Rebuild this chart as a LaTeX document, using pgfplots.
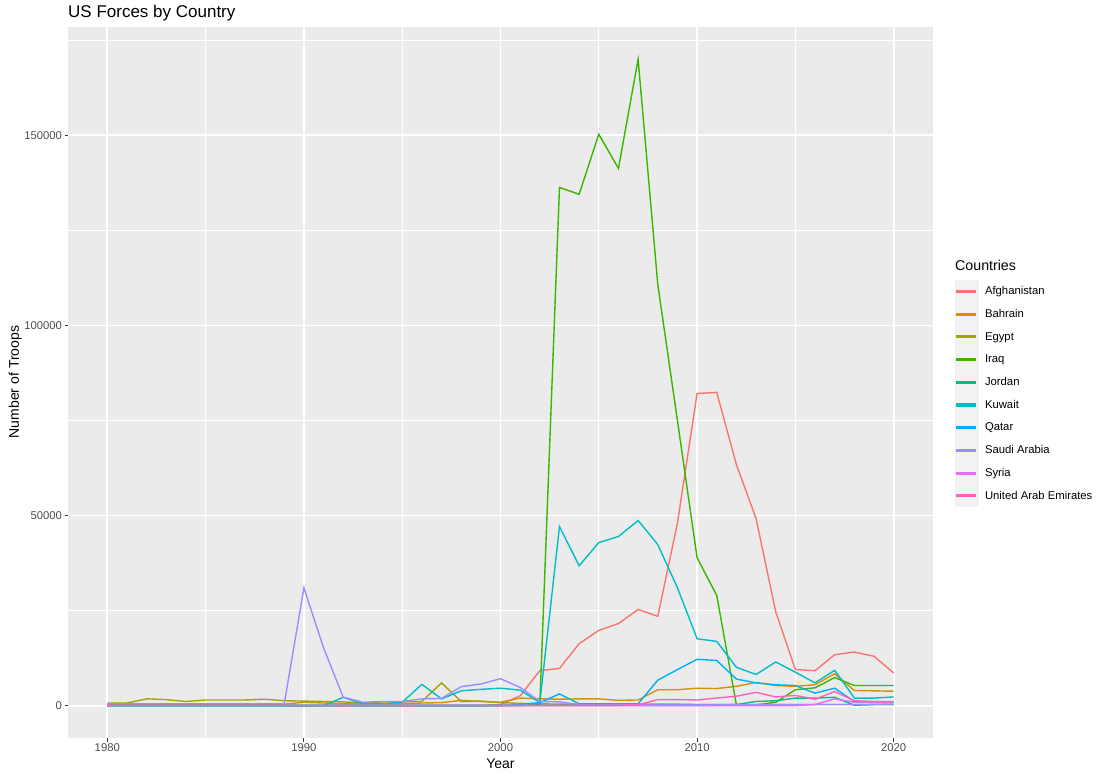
\documentclass[border=0pt]{standalone}
\usepackage{fontspec}
\setmainfont{Liberation Sans}
\usepackage{pgfplots}
\usepackage{pgfplotstable}
\pgfplotsset{compat=1.18}
\definecolor{cAfg}{HTML}{F8766D}
\definecolor{cBah}{HTML}{D89000}
\definecolor{cEgy}{HTML}{A3A500}
\definecolor{cIrq}{HTML}{39B600}
\definecolor{cJor}{HTML}{00BF7D}
\definecolor{cKuw}{HTML}{00BFC4}
\definecolor{cQat}{HTML}{00B0F6}
\definecolor{cSau}{HTML}{9590FF}
\definecolor{cSyr}{HTML}{E76BF3}
\definecolor{cUae}{HTML}{FF62BC}
\definecolor{panel}{HTML}{EBEBEB}
\definecolor{keybg}{HTML}{F2F2F2}
\definecolor{tlab}{HTML}{4D4D4D}
\definecolor{tmark}{HTML}{333333}

\pgfplotstableread{
Year Afg Bah Egy Irq Jor Kuw Qat Sau Syr Uae
1980 0 300 700 0 100 0 0 500 0 100
1981 0 300 700 0 100 0 0 500 0 100
1982 0 300 1800 0 100 0 0 500 0 100
1983 0 300 1600 0 100 0 0 500 0 100
1984 0 300 1100 0 100 0 0 500 0 100
1985 0 300 1500 0 100 0 0 500 0 100
1986 0 300 1500 0 100 0 0 500 0 100
1987 0 300 1500 0 100 0 0 500 0 100
1988 0 300 1700 0 100 0 0 500 0 100
1989 0 400 1300 0 100 0 0 500 0 100
1990 0 900 1200 0 100 0 0 31000 0 100
1991 0 700 1100 0 100 0 0 15200 0 100
1992 0 500 1000 0 100 2200 0 2200 0 100
1993 0 500 700 0 100 500 0 900 0 100
1994 0 500 1000 0 100 500 0 1100 0 100
1995 0 500 1000 0 100 900 0 1100 0 100
1996 0 700 1100 0 100 5600 0 1800 0 100
1997 0 800 6000 0 100 1800 0 1900 0 100
1998 0 1400 1100 0 100 3900 0 5000 0 100
1999 0 1100 1200 0 100 4300 0 5700 0 100
2000 300 900 800 0 100 4600 0 7100 0 100
2001 2600 2000 600 0 100 4100 300 4800 0 100
2002 9200 1800 500 300 100 800 800 1100 0 100
2003 9800 1700 400 136300 100 47100 3100 1000 0 100
2004 16300 1800 400 134500 100 36800 500 300 0 100
2005 19800 1800 400 150300 100 42900 500 300 0 100
2006 21600 1400 400 141300 100 44500 500 300 0 100
2007 25300 1500 400 170000 100 48700 500 300 0 200
2008 23500 4200 400 110800 100 42400 6700 300 0 1600
2009 48000 4200 400 75000 100 31000 9500 300 0 1600
2010 82100 4600 300 38900 100 17600 12200 300 0 1500
2011 82400 4500 300 29000 100 16900 11900 300 0 2000
2012 63400 5100 300 200 300 10100 7000 300 0 2500
2013 49200 6100 300 200 1100 8200 6000 300 0 3500
2014 24700 5300 300 900 1300 11500 5500 300 0 2300
2015 9500 5100 300 4200 2000 8800 5300 300 0 2700
2016 9200 5500 300 4700 2000 6000 3300 300 300 1700
2017 13400 8400 300 7400 2200 9300 4600 300 1800 3700
2018 14100 4000 300 5300 100 2000 1100 300 900 1300
2019 13000 3900 300 5300 300 2000 1000 300 800 1100
2020 8600 3800 300 5300 300 2300 1000 300 700 1100
}\data

\begin{document}
\begin{tikzpicture}
\useasboundingbox (0,0) rectangle (1100pt,776pt);
\fill[keybg] (955pt,269pt) rectangle (979pt,496pt);
\begin{axis}[
  at={(68pt,38pt)}, anchor=south west,
  scale only axis, width=865pt, height=711pt,
  xmin=1978, xmax=2022, ymin=-8500, ymax=178500,
  scaled x ticks=false, scaled y ticks=false,
  axis background/.style={fill=panel},
  axis line style={draw=none},
  xtick={1980,1990,2000,2010,2020},
  xticklabels={1980,1990,2000,2010,2020},
  ytick={0,50000,100000,150000},
  yticklabels={0,50000,100000,150000},
  minor xtick={1985,1995,2005,2015},
  minor ytick={25000,75000,125000,175000},
  grid=both,
  major grid style={white, line width=1.8pt},
  minor grid style={white, line width=0.9pt},
  tick align=outside,
  major tick length=3.5pt,
  minor tick length=0pt,
  xtick pos=left, ytick pos=left,
  tick style={color=tmark, line width=1.1pt},
  xticklabel style={font=\fontsize{11.3}{13}\selectfont, text=tlab, yshift=1pt},
  yticklabel style={font=\fontsize{11.3}{13}\selectfont, text=tlab, xshift=1pt},
  every axis plot/.append style={line width=1.4pt, no markers},
  legend cell align=left,
  legend image code/.code={
    \fill[#1] (0pt,-0.85pt) rectangle (18pt,0.85pt);
    \path[draw=none, fill=none] (-2pt,-11.35pt) rectangle (28pt,11.35pt);
  },
  legend style={at={(1,0.644)}, anchor=north west, xshift=22pt,
    draw=none, fill=none, inner sep=0pt, outer sep=0pt,
    row sep=0pt, column sep=0pt,
    nodes={inner sep=0pt, anchor=west, font=\fontsize{11.3}{13}\selectfont}},
]
\addplot[cAfg] table[x=Year,y=Afg]{\data}; \addlegendentry{Afghanistan}
\addplot[cBah] table[x=Year,y=Bah]{\data}; \addlegendentry{Bahrain}
\addplot[cEgy] table[x=Year,y=Egy]{\data}; \addlegendentry{Egypt}
\addplot[cIrq] table[x=Year,y=Irq]{\data}; \addlegendentry{Iraq}
\addplot[cJor] table[x=Year,y=Jor]{\data}; \addlegendentry{Jordan}
\addplot[cKuw] table[x=Year,y=Kuw]{\data}; \addlegendentry{Kuwait}
\addplot[cQat] table[x=Year,y=Qat]{\data}; \addlegendentry{Qatar}
\addplot[cSau] table[x=Year,y=Sau]{\data}; \addlegendentry{Saudi Arabia}
\addplot[cSyr] table[x=Year,y=Syr]{\data}; \addlegendentry{Syria}
\addplot[cUae] table[x=Year,y=Uae]{\data}; \addlegendentry{United Arab Emirates}
\end{axis}
\node[anchor=base west, font=\fontsize{17}{20}\selectfont, inner sep=0pt] at (68pt,758.5pt) {US Forces by Country};
\node[anchor=base, font=\fontsize{14}{16}\selectfont, inner sep=0pt] at (500.5pt,7.7pt) {Year};
\node[anchor=base, rotate=90, font=\fontsize{14}{16}\selectfont, inner sep=0pt] at (19pt,394pt) {Number of Troops};
\node[anchor=base west, font=\fontsize{14.2}{16}\selectfont, inner sep=0pt] at (955pt,505pt) {Countries};
\end{tikzpicture}
\end{document}
